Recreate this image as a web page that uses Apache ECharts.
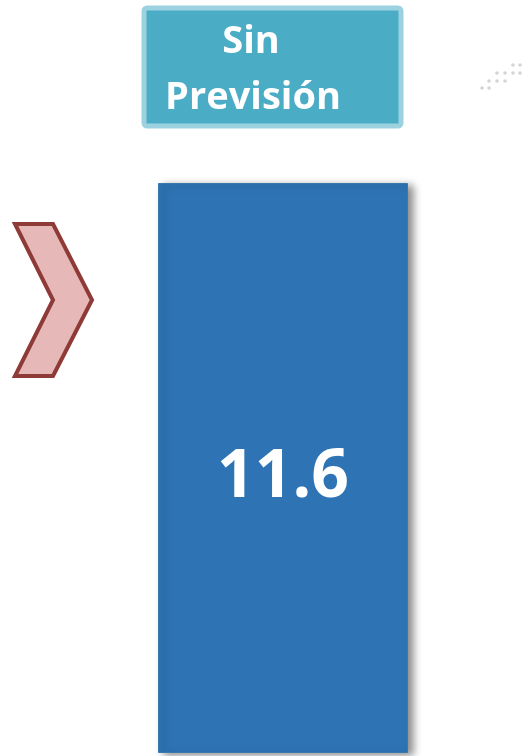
<!DOCTYPE html>
<html>
<head>
<meta charset="utf-8">
<script src="https://cdn.jsdelivr.net/npm/echarts@6/dist/echarts.min.js"></script>
<style>
html,body{margin:0;padding:0;background:#fff;}
#c{width:522px;height:756px;}
</style>
</head>
<body>
<div id="c"></div>
<script>
var categories = ['Sin Previsión'];
var headerLines = ['Sin', 'Previsión'];
var values = [11.6];
var labels = ['11.6'];

var chart = echarts.init(document.getElementById('c'), null, {renderer: 'canvas'});

var dots = [[482,88],[489,88],[489,81],[497,81],[505,81],[497,73],[505,73],[513,73],[520,73],[513,65],[520,65]];
var dotGraphics = dots.map(function (p) {
  return {type: 'circle', shape: {cx: p[0], cy: p[1], r: 1.8}, style: {fill: '#d4d4d4'}, silent: true};
});

chart.setOption({
  animation: false,
  grid: {left: 158, right: 114, top: 183, bottom: 3},
  xAxis: {type: 'category', data: categories, show: false},
  yAxis: {type: 'value', min: 0, max: 11.6, show: false},
  series: [{
    type: 'bar',
    data: values,
    barWidth: '100%',
    itemStyle: {
      color: '#2E74B5',
      borderColor: '#3A78B0',
      borderWidth: 1,
      shadowColor: 'rgba(0,0,0,0.45)',
      shadowBlur: 8,
      shadowOffsetX: 5,
      shadowOffsetY: 2
    },
    label: {
      show: true,
      position: 'inside',
      offset: [0, 10],
      formatter: function (p) { return labels[p.dataIndex]; },
      color: '#ffffff',
      fontFamily: 'Open Sans',
      fontWeight: 'bold',
      fontSize: 66
    }
  }],
  graphic: [
    {
      type: 'rect',
      shape: {x: 144, y: 8, width: 257, height: 118, r: 3},
      style: {fill: '#4BACC6', stroke: '#9CD1E0', lineWidth: 5},
      silent: true
    },
    {
      type: 'text',
      x: 251, y: 42,
      style: {text: headerLines[0], fill: '#ffffff', font: 'bold 38px "Open Sans"', align: 'center', verticalAlign: 'middle'},
      silent: true
    },
    {
      type: 'text',
      x: 253, y: 98,
      style: {text: headerLines[1], fill: '#ffffff', font: 'bold 38px "Open Sans"', align: 'center', verticalAlign: 'middle'},
      silent: true
    },
    {
      type: 'polygon',
      shape: {points: [[15,224],[53,224],[92,300],[53,376],[15,376],[53,300]]},
      style: {fill: '#E6B8B7', stroke: '#8E3A36', lineWidth: 4, lineJoin: 'miter'},
      silent: true
    }
  ].concat(dotGraphics)
});
</script>
</body>
</html>
